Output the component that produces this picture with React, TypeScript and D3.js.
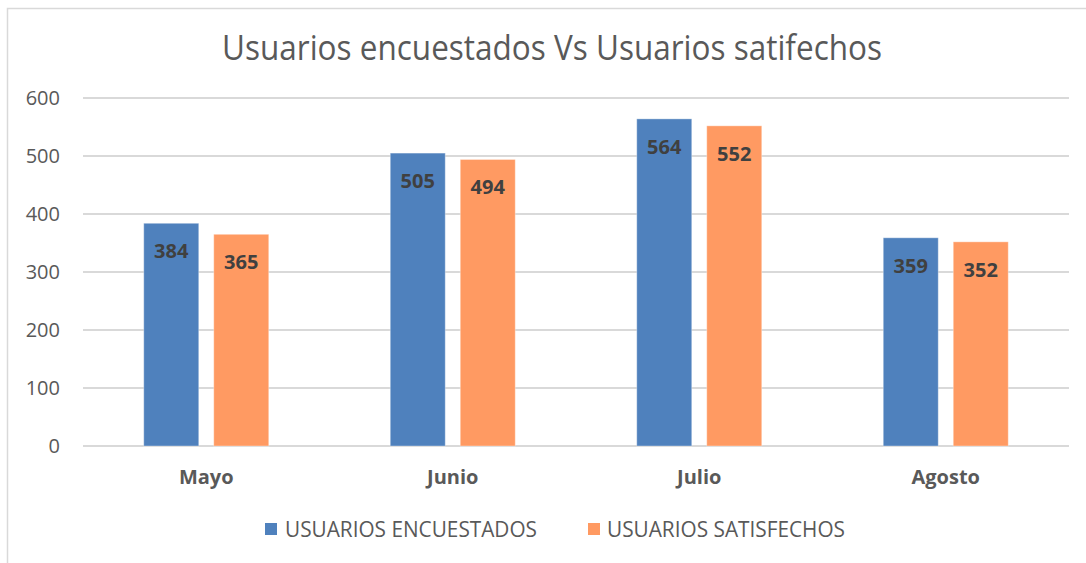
import React, { useEffect, useRef } from 'react';
import * as d3 from 'd3';

const meses = ['Mayo', 'Junio', 'Julio', 'Agosto'];
const encuestados = [384, 505, 564, 359];
const satisfechos = [365, 494, 552, 352];
const series = ['USUARIOS ENCUESTADOS', 'USUARIOS SATISFECHOS'];
const colores = ['#4F81BD', '#FF9A62'];
const ticks = [0, 100, 200, 300, 400, 500, 600];

const App: React.FC = () => {
  const ref = useRef<SVGSVGElement>(null);

  useEffect(() => {
    if (!ref.current) return;
    const svg = d3.select(ref.current);
    svg.selectAll('*').remove();

    const W = 1086, H = 563;
    const left = 83, right = 1069, top = 98, bottom = 446;
    const font = "'Open Sans', sans-serif";
    const gris = '#595959';

    // marco
    svg.append('path')
      .attr('d', `M7.5,${H} V8.5 H${W}`)
      .attr('fill', 'none')
      .attr('stroke', '#d9d9d9')
      .attr('stroke-width', 1.5);

    // titulo
    svg.append('text')
      .attr('x', 552).attr('y', 60)
      .attr('text-anchor', 'middle')
      .attr('font-family', font)
      .attr('font-size', 35)
      .attr('fill', gris)
      .attr('textLength', 660)
      .attr('lengthAdjust', 'spacingAndGlyphs')
      .text('Usuarios encuestados Vs Usuarios satifechos');

    const x = d3.scaleBand<string>().domain(meses).range([left, right]);
    const y = d3.scaleLinear().domain([0, 600]).range([bottom, top]);

    // rejilla
    svg.append('g').selectAll('line').data(ticks).enter().append('line')
      .attr('x1', left).attr('x2', right)
      .attr('y1', d => y(d)).attr('y2', d => y(d))
      .attr('stroke', '#d9d9d9').attr('stroke-width', 2);

    svg.append('g').selectAll('text').data(ticks).enter().append('text')
      .attr('x', 60).attr('y', d => y(d))
      .attr('dy', '0.35em')
      .attr('text-anchor', 'end')
      .attr('font-family', font).attr('font-size', 20)
      .attr('fill', gris)
      .text(d => d);

    // barras
    const datos = meses.flatMap((m, i) => [
      { mes: m, s: 0, v: encuestados[i] },
      { mes: m, s: 1, v: satisfechos[i] },
    ]);
    const bw = 55;
    const bx = (d: { mes: string; s: number }) =>
      (x(d.mes) as number) + x.bandwidth() / 2 + (d.s === 0 ? -62.5 : 7.5);

    svg.append('g').selectAll('rect').data(datos).enter().append('rect')
      .attr('x', d => bx(d))
      .attr('y', d => y(d.v))
      .attr('width', bw)
      .attr('height', d => bottom - y(d.v))
      .attr('fill', d => colores[d.s])
      .attr('stroke', 'rgba(255,255,255,0.35)')
      .attr('stroke-width', 1);

    svg.append('g').selectAll('text').data(datos).enter().append('text')
      .attr('x', d => bx(d) + bw / 2)
      .attr('y', d => y(d.v) + 35)
      .attr('text-anchor', 'middle')
      .attr('font-family', font).attr('font-size', 20).attr('font-weight', 'bold')
      .attr('fill', '#404040')
      .text(d => d.v);

    // eje x
    svg.append('g').selectAll('text').data(meses).enter().append('text')
      .attr('x', d => (x(d) as number) + x.bandwidth() / 2)
      .attr('y', 484)
      .attr('text-anchor', 'middle')
      .attr('font-family', font).attr('font-size', 20).attr('font-weight', 'bold')
      .attr('fill', gris)
      .text(d => d);

    // leyenda
    const leg = [
      { sx: 265, tx: 285, w: 252 },
      { sx: 588, tx: 607, w: 238 },
    ];
    leg.forEach((l, i) => {
      svg.append('rect')
        .attr('x', l.sx).attr('y', 523).attr('width', 12).attr('height', 12)
        .attr('fill', colores[i]);
      svg.append('text')
        .attr('x', l.tx).attr('y', 537)
        .attr('font-family', font).attr('font-size', 21)
        .attr('fill', gris)
        .attr('textLength', l.w)
        .attr('lengthAdjust', 'spacingAndGlyphs')
        .text(series[i]);
    });
  }, []);

  return (
    <svg
      ref={ref}
      width={1086}
      height={563}
      style={{ position: 'absolute', left: 0, top: 0, background: '#fff' }}
    />
  );
};

export default App;
